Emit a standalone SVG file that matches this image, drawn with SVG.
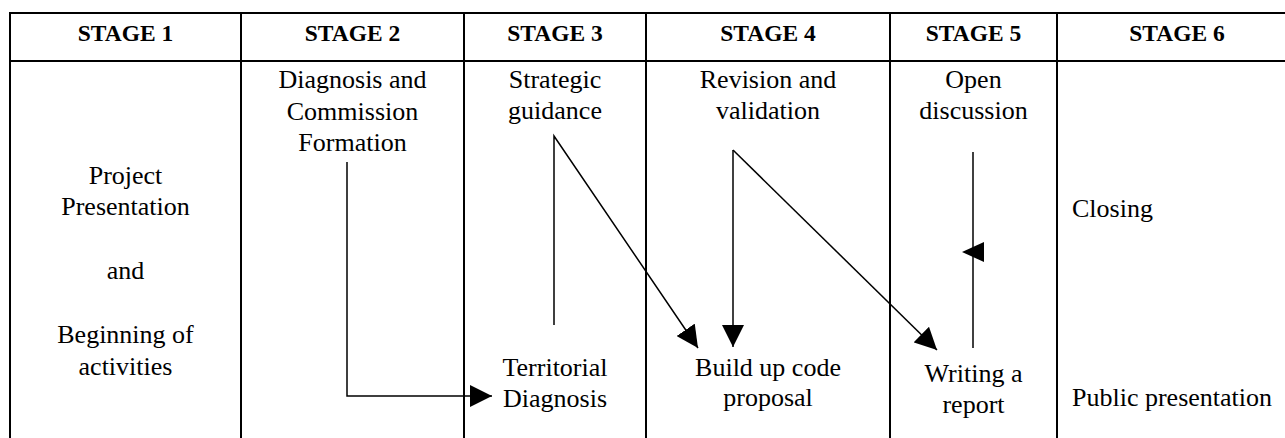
<svg xmlns="http://www.w3.org/2000/svg" width="1285" height="438" viewBox="0 0 1285 438">
<style>
.grid{stroke:#000;stroke-width:2;fill:none}
.hd{font-family:"Liberation Serif","Times New Roman",serif;font-weight:bold;font-size:23.5px;text-anchor:middle;fill:#000}
.tx{font-family:"Liberation Serif","Times New Roman",serif;font-size:26px;text-anchor:middle;fill:#000}
.lt{text-anchor:start}
.cn{stroke:#000;stroke-width:1.5;fill:none}
</style>
<defs>
<marker id="arrow" viewBox="0 0 22 22" refX="22" refY="11" markerWidth="22" markerHeight="22" markerUnits="userSpaceOnUse" orient="auto">
<path d="M0,0 L22,11 L0,22 z" fill="#000"/>
</marker>
</defs>
<rect width="1285" height="438" fill="#fff"/>
<g id="table" class="grid">
<line x1="9" y1="13" x2="1285" y2="13"/>
<line x1="9" y1="61" x2="1285" y2="61"/>
<line x1="10" y1="12" x2="10" y2="438"/>
<line x1="241" y1="12" x2="241" y2="438"/>
<line x1="464" y1="12" x2="464" y2="438"/>
<line x1="646" y1="12" x2="646" y2="438"/>
<line x1="890" y1="12" x2="890" y2="438"/>
<line x1="1057" y1="12" x2="1057" y2="438"/>
</g>
<g id="headers">
<text class="hd" x="125.5" y="41">STAGE 1</text>
<text class="hd" x="352.5" y="41">STAGE 2</text>
<text class="hd" x="555" y="41">STAGE 3</text>
<text class="hd" x="768" y="41">STAGE 4</text>
<text class="hd" x="973.5" y="41">STAGE 5</text>
<text class="hd" x="1177" y="41">STAGE 6</text>
</g>
<g id="project-presentation">
<text class="tx" x="125.5" y="184">Project</text>
<text class="tx" x="125.5" y="215">Presentation</text>
<text class="tx" x="125.5" y="279">and</text>
<text class="tx" x="125.5" y="343">Beginning of</text>
<text class="tx" x="125.5" y="375">activities</text>
</g>
<g id="diagnosis-commission">
<text class="tx" x="352.5" y="88">Diagnosis and</text>
<text class="tx" x="352.5" y="120">Commission</text>
<text class="tx" x="352.5" y="151">Formation</text>
</g>
<g id="strategic-guidance">
<text class="tx" x="555" y="88">Strategic</text>
<text class="tx" x="555" y="119">guidance</text>
</g>
<g id="territorial-diagnosis">
<text class="tx" x="555" y="376">Territorial</text>
<text class="tx" x="555" y="407">Diagnosis</text>
</g>
<g id="revision-validation">
<text class="tx" x="768" y="88">Revision and</text>
<text class="tx" x="768" y="119">validation</text>
</g>
<g id="build-up-code">
<text class="tx" x="768" y="376">Build up code</text>
<text class="tx" x="768" y="406">proposal</text>
</g>
<g id="open-discussion">
<text class="tx" x="973.5" y="88">Open</text>
<text class="tx" x="973.5" y="119">discussion</text>
</g>
<g id="writing-report">
<text class="tx" x="973.5" y="382">Writing a</text>
<text class="tx" x="973.5" y="413">report</text>
</g>
<g id="closing">
<text class="tx lt" x="1072" y="217">Closing</text>
</g>
<g id="public-presentation">
<text class="tx lt" x="1072" y="406">Public presentation</text>
</g>
<g id="connectors">
<polyline class="cn" points="347,162 347,396 492,396" marker-end="url(#arrow)"/>
<polyline class="cn" points="554,325 554,136 698,348" marker-end="url(#arrow)"/>
<line class="cn" x1="733" y1="150" x2="733" y2="347" marker-end="url(#arrow)"/>
<line class="cn" x1="733" y1="150" x2="937" y2="350" marker-end="url(#arrow)"/>
<line class="cn" x1="973" y1="152" x2="973" y2="348"/>
<polygon points="962,252 984,242 984,262" fill="#000"/>
</g>
</svg>
